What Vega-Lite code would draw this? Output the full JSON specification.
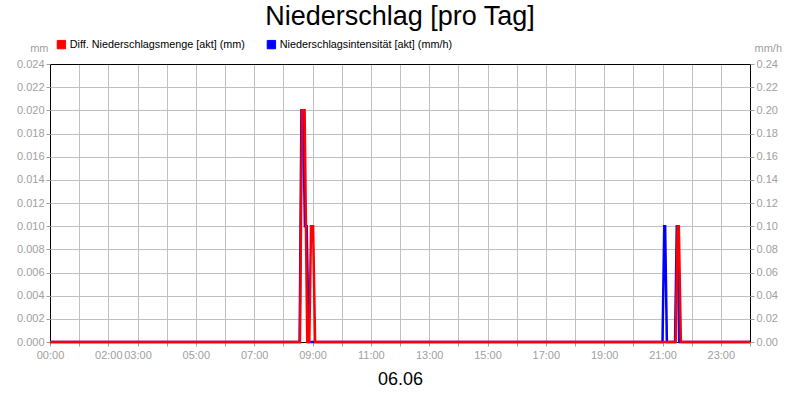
{
  "$schema": "https://vega.github.io/schema/vega-lite/v6.json",
  "width": 700,
  "height": 278,
  "autosize": {"type": "none"},
  "padding": {"left": 50, "top": 64, "right": 50, "bottom": 58},
  "background": "white",
  "title": {
    "text": "Niederschlag [pro Tag]",
    "font": "Liberation Sans",
    "fontSize": 27,
    "fontWeight": "normal",
    "color": "black",
    "anchor": "middle",
    "offset": 8
  },
  "datasets": {
    "menge": [
      {"stunde": 0, "mm": 0},
      {"stunde": 8.57, "mm": 0},
      {"stunde": 8.64, "mm": 0.02},
      {"stunde": 8.73, "mm": 0.02},
      {"stunde": 8.82, "mm": 0},
      {"stunde": 8.89, "mm": 0},
      {"stunde": 8.95, "mm": 0.01},
      {"stunde": 9.02, "mm": 0.01},
      {"stunde": 9.09, "mm": 0},
      {"stunde": 21.45, "mm": 0},
      {"stunde": 21.52, "mm": 0.01},
      {"stunde": 21.56, "mm": 0.01},
      {"stunde": 21.63, "mm": 0},
      {"stunde": 24, "mm": 0}
    ],
    "intensitaet": [
      {"stunde": 0, "mmh": 0},
      {"stunde": 8.56, "mmh": 0},
      {"stunde": 8.62, "mmh": 0.2},
      {"stunde": 8.68, "mmh": 0.2},
      {"stunde": 8.74, "mmh": 0.1},
      {"stunde": 8.8, "mmh": 0.1},
      {"stunde": 8.87, "mmh": 0},
      {"stunde": 21.0, "mmh": 0},
      {"stunde": 21.06, "mmh": 0.1},
      {"stunde": 21.09, "mmh": 0.1},
      {"stunde": 21.15, "mmh": 0},
      {"stunde": 21.43, "mmh": 0},
      {"stunde": 21.49, "mmh": 0.1},
      {"stunde": 21.52, "mmh": 0.1},
      {"stunde": 21.57, "mmh": 0},
      {"stunde": 24, "mmh": 0}
    ]
  },
  "encoding": {
    "x": {
      "field": "stunde",
      "type": "quantitative",
      "scale": {"domain": [0, 24], "nice": false},
      "axis": {
        "values": [0, 1, 2, 3, 4, 5, 6, 7, 8, 9, 10, 11, 12, 13, 14, 15, 16, 17, 18, 19, 20, 21, 22, 23, 24],
        "labelExpr": "indexof([0, 2, 3, 5, 7, 9, 11, 13, 15, 17, 19, 21, 23], datum.value) >= 0 ? (datum.value < 10 ? '0' : '') + datum.value + ':00' : ''",
        "grid": true,
        "gridColor": {"condition": {"test": "datum.value == 0 || datum.value == 24", "value": "black"}, "value": "#c0c0c0"},
        "domain": false,
        "tickColor": "#a0a0a0",
        "tickSize": 4,
        "labelColor": "#a0a0a0",
        "labelFont": "Liberation Sans",
        "labelFontSize": 11,
        "labelPadding": 3,
        "labelOverlap": false,
        "labelFlush": false,
        "title": "06.06",
        "titleFont": "Liberation Sans",
        "titleFontSize": 18,
        "titleFontWeight": "normal",
        "titleColor": "black",
        "titlePadding": 10
      }
    }
  },
  "layer": [
    {
      "data": {"name": "intensitaet"},
      "mark": {"type": "line", "strokeWidth": 2.5},
      "encoding": {
        "y": {
          "field": "mmh",
          "type": "quantitative",
          "scale": {"domain": [0, 0.24], "nice": false},
          "axis": {
            "orient": "right",
            "values": [0, 0.02, 0.04, 0.06, 0.08, 0.1, 0.12, 0.14, 0.16, 0.18, 0.2, 0.22, 0.24],
            "format": ".2f",
            "grid": false,
            "domain": false,
            "tickColor": "#a0a0a0",
            "tickSize": 4,
            "labelColor": "#a0a0a0",
            "labelFont": "Liberation Sans",
            "labelFontSize": 11,
            "labelPadding": 2,
            "title": "mm/h",
            "titleAngle": 0,
            "titleX": 4,
            "titleY": -16,
            "titleAlign": "left",
            "titleBaseline": "middle",
            "titleColor": "#a0a0a0",
            "titleFont": "Liberation Sans",
            "titleFontSize": 11,
            "titleFontWeight": "normal"
          }
        },
        "color": {
          "datum": "Niederschlagsintensität [akt] (mm/h)",
          "scale": {
            "domain": ["Diff. Niederschlagsmenge [akt] (mm)", "Niederschlagsintensität [akt] (mm/h)"],
            "range": ["#ff0000", "#0000ff"]
          },
          "legend": {
            "orient": "none",
            "legendX": 6,
            "legendY": -25,
            "direction": "horizontal",
            "title": null,
            "symbolType": "square",
            "symbolSize": 70,
            "labelFont": "Liberation Sans",
            "labelFontSize": 10.8,
            "labelColor": "black",
            "labelLimit": 0,
            "labelOffset": 3,
            "columnPadding": 20,
            "encode": {
              "symbols": {
                "update": {
                  "fill": {"scale": "color", "field": "value"},
                  "stroke": {"value": "black"},
                  "strokeWidth": {"value": 1},
                  "opacity": {"value": 1}
                }
              }
            }
          }
        }
      }
    },
    {
      "data": {"name": "menge"},
      "mark": {"type": "line", "strokeWidth": 2.5},
      "encoding": {
        "y": {
          "field": "mm",
          "type": "quantitative",
          "scale": {"domain": [0, 0.024], "nice": false},
          "axis": {
            "orient": "left",
            "values": [0, 0.002, 0.004, 0.006, 0.008, 0.01, 0.012, 0.014, 0.016, 0.018, 0.02, 0.022, 0.024],
            "format": ".3f",
            "grid": true,
            "gridColor": {"condition": {"test": "datum.value == 0 || datum.value == 0.024", "value": "black"}, "value": "#c0c0c0"},
            "domain": false,
            "tickColor": "#a0a0a0",
            "tickSize": 4,
            "labelColor": "#a0a0a0",
            "labelFont": "Liberation Sans",
            "labelFontSize": 11,
            "labelPadding": 2,
            "title": "mm",
            "titleAngle": 0,
            "titleX": -2,
            "titleY": -16,
            "titleAlign": "right",
            "titleBaseline": "middle",
            "titleColor": "#a0a0a0",
            "titleFont": "Liberation Sans",
            "titleFontSize": 11,
            "titleFontWeight": "normal"
          }
        },
        "color": {"datum": "Diff. Niederschlagsmenge [akt] (mm)"}
      }
    }
  ],
  "resolve": {"scale": {"y": "independent"}},
  "config": {
    "view": {"stroke": "black", "strokeWidth": 1}
  }
}
